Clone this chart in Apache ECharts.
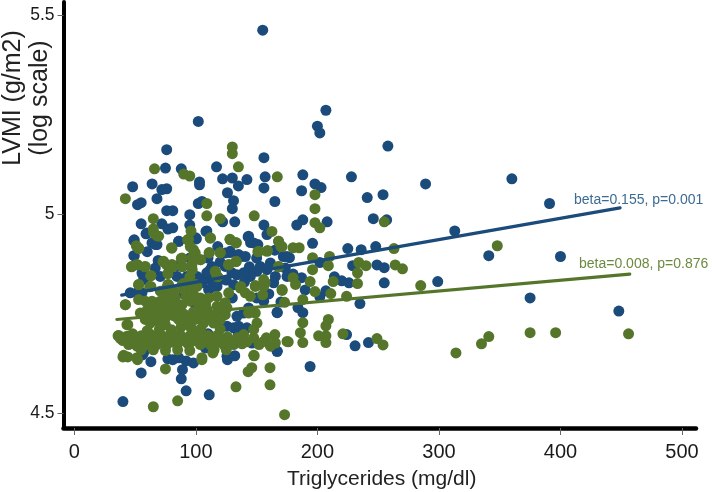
<!DOCTYPE html>
<html>
<head>
<meta charset="utf-8">
<style>html,body{margin:0;padding:0;background:#fff}#c{width:712px;height:492px}</style>
<script src="https://cdn.jsdelivr.net/npm/echarts@6/dist/echarts.min.js"></script>
</head>
<body>
<div id="c"></div>
<script>
const xTicks = [0, 100, 200, 300, 400, 500];
const yTicks = [4.5, 5, 5.5];
const xTitle = 'Triglycerides (mg/dl)';
const yTitle = 'LVMI (g/m2)\n(log scale)';
const blueLabel = 'beta=0.155, p=0.001';
const greenLabel = 'beta=0.008, p=0.876';
const blueFit = [[39, 4.797], [449, 5.016]];
const greenFit = [[35, 4.736], [457, 4.850]];
const bluePoints = [
[155,5.462],[102,5.233],[207,5.261],[200,5.221],[202,5.204],[258,5.171],[360,5.089],[391,5.027],[400,4.894],[448,4.757],[375,4.790],[313,4.958],[341,4.896],[289,5.076],[299,4.831],
[188,5.099],[228,5.094],[198,5.076],[203,5.067],[187,5.059],[241,5.042],[254,5.049],[165,5.032],[246,4.989],[257,4.986],[208,4.981],[188,4.986],[183,4.973],[196,4.927],[225,4.914],[236,4.911],[248,4.919],
[229,4.871],[249,4.873],[255,4.866],[202,4.879],[172,4.894],[177,4.891],[214,4.843],[220,4.833],[226,4.828],[255,4.828],[187,4.841],[207,4.808],[202,4.793],[235,4.776],[167,4.753],[184,4.766],[188,4.753],[224,4.698],[231,4.670],[242,4.678],[167,4.656],[194,4.618],
[76,5.162],[75,5.116],[88,5.114],[117,5.119],[156,5.142],[122,5.089],[130,5.091],[135,5.071],[142,5.087],[157,5.094],[156,5.066],[48,5.069],[64,5.076],[72,5.062],[76,5.064],[103,5.081],[103,5.074],[126,5.054],[68,5.039],[52,5.024],[55,5.029],[131,5.034],[130,5.014],[102,5.027],[105,5.032],[76,5.009],[81,5.009],[95,4.999],
[55,4.976],[132,4.981],[122,4.981],[72,4.976],[77,4.963],[81,4.966],[59,4.951],[109,4.958],[95,4.973],[156,4.973],[143,4.943],[145,4.929],[49,4.934],[67,4.924],[60,4.906],[49,4.896],[86,4.932],[100,4.941],[118,4.919],[128,4.904],[137,4.894],[151,4.924],[69,4.884],[144,4.868],[56,4.851],
[55,4.602],[63,4.630],[77,4.637],[81,4.635],[92,4.632],[98,4.627],[89,4.610],[88,4.587],[92,4.557],[111,4.547],[40,4.530],[126,4.635],[132,4.645],[56,4.647],[109,4.665],[146,4.678],
[49.3,4.936],[49.3,4.896],[59.8,4.953],[63.9,4.928],[68,4.924],[85.8,4.932],[100.4,4.938],[108.3,4.957],[143.4,4.945],[147.6,4.928],[158.5,4.949],[135.2,4.899],[124.2,4.903],[128.3,4.907],[140.7,4.894],[124.2,4.869],[113.3,4.869],[106.4,4.836],[111.9,4.836],[117.4,4.819],[110.5,4.811],[100.9,4.844],[105,4.828],[77.6,4.853],[66.6,4.865],[70.7,4.844],[55.7,4.853],[57,4.836],[46,4.803],[51.5,4.803],[55.7,4.803],[131.1,4.823],[150.3,4.857],[144.8,4.844],[165.4,4.844],[164,4.828],[153,4.869],[175,4.894],[173.6,4.865],[175,4.844],[166.8,4.754],[155.8,4.782],[143.4,4.765],[99.5,4.740],[94.1,4.744],[135.2,4.719],[125.6,4.719],[142,4.715],[131.1,4.715],[121.5,4.719],[146.2,4.677],[166.8,4.656],[125.6,4.644],[57,4.652],[85.8,4.640],[107.8,4.665],[139.3,4.752],[133.8,4.744],[109.1,4.744],[111.9,4.861],[129.7,4.853],[139.3,4.853],[133.8,4.848],[92.7,4.844],[84.5,4.844],[109,4.853],[114.6,4.819],[120,4.836],[161.3,4.878],[158.5,4.861],
[125,4.835],[140,4.830],[160,4.800],[170,4.780],[150,4.790],[130,4.790],[120,4.760],[100,4.770],[90,4.800],[70,4.730],[110,4.700],[135,4.700],[85,4.870],[95,4.890],[110,4.890],[120,4.880],[150,4.890],[165,4.910],[180,4.850],[190,4.810]
];
const greenPoints = [
[167,5.094],[198,5.049],[198,5.014],[198,4.979],[202,4.966],[255,4.981],[168,4.932],[170,4.919],[180,4.916],[185,4.916],[263,4.914],[348,4.921],[196,4.891],[210,4.894],[209,4.871],[168,4.868],[196,4.861],[234,4.879],[240,4.871],[264,4.873],[270,4.863],[233,4.853],[180,4.841],[182,4.824],[194,4.831],[213,4.831],[233,4.826],[285,4.821],[171,4.809],[198,4.806],[211,4.801],[224,4.794],[188,4.786],[173,4.779],
[209,4.736],[207,4.720],[188,4.728],[186,4.703],[165,4.698],[201,4.695],[207,4.695],[221,4.700],[176,4.680],[188,4.678],[207,4.678],[249,4.688],[254,4.672],[341,4.693],[335,4.675],[314,4.652],[375,4.703],[396,4.703],[456,4.700],
[130,5.169],[130,5.152],[135,5.119],[66,5.114],[90,5.101],[95,5.096],[42,5.039],[109,5.027],[109,4.996],[120,4.989],[148,4.996],[65,4.989],[65,4.963],[68,4.946],[96,4.958],[94,4.937],[112,4.941],[128,4.937],[133,4.929],[51,4.921],[53,4.914],[80,4.916],[98,4.911],[111,4.904],[120,4.904],[151,4.906],[159,4.909],
[97,4.891],[104,4.886],[88,4.889],[73,4.881],[76,4.873],[47,4.868],[52,4.873],[58,4.868],[81,4.868],[89,4.868],[127,4.873],[133,4.881],[116,4.856],[118,4.843],[63,4.846],[77,4.851],[97,4.861],[95,4.843],[53,4.824],[63,4.819],[77,4.824],[90,4.826],[100,4.824],[137,4.819],[149,4.821],[157,4.828],
[42,4.773],[44,4.723],[36,4.695],[40,4.683],[40,4.642],[44,4.642],[52,4.635],[75,4.612],[105,4.635],[114,4.652],[148,4.645],[146,4.615],[143,4.605],[133,4.567],[161,4.615],[161,4.572],[65,4.517],[85,4.532],[173,4.497],
[77.6,4.823],[70.7,4.807],[81.7,4.807],[74.9,4.794],[79,4.786],[70.7,4.782],[83.1,4.790],[73.5,4.769],[80.3,4.765],[68,4.757],[76.2,4.752],[85.8,4.761],[88.6,4.773],
[36.5,4.696],[43.3,4.694],[44.7,4.673],[50.2,4.690],[51.5,4.669],[57,4.686],[59.8,4.673],[65.3,4.690],[68,4.673],[73.5,4.690],[76.2,4.673],[81.7,4.694],[84.5,4.673],[90,4.686],[94.1,4.673],[99.5,4.690],[103.7,4.673],[109.1,4.686],[111.9,4.673],[117.4,4.686],[122.9,4.673],[129.7,4.681],[131.1,4.673],
[43.3,4.723],[54.3,4.752],[58.4,4.736],[62.5,4.727],[69.4,4.732],[74.9,4.723],[85.8,4.736],[92.7,4.732],[99.5,4.736],[106.4,4.727],[114.6,4.727],[116,4.748],[124.2,4.748],[109.1,4.761],[102.3,4.765],[95.4,4.782],[98.2,4.798],[95.4,4.819],[88.6,4.823],[100.9,4.819],[103.7,4.790],[110.5,4.790],[117.4,4.794],[124.2,4.778],[127,4.803],[136.6,4.815],[140.7,4.803],[144.8,4.794],[148.9,4.819],[155.8,4.836],[155.8,4.819],[155,4.798],[170.9,4.811],[168.1,4.869],[151.7,4.907],[158.5,4.907],[168.1,4.932],[170.9,4.919],[162.6,4.957],[128.3,4.936],[133.3,4.928],[111.9,4.940],[120.1,4.903],[111,4.903],[93.2,4.936],[95.4,4.919],[99.5,4.903],[103.7,4.886],[96.8,4.874],[88.6,4.869],[88.6,4.890],[80.3,4.915],[73.5,4.882],[80.3,4.874],[65.3,4.953],[69.4,4.945],[52.9,4.915],[47.4,4.869],[51.5,4.874],[58.4,4.869],[63,4.846],[52.9,4.823],[62,4.818],[52.9,4.786],[58.4,4.782],[63.9,4.782],[42,4.773],[116,4.857],[117.4,4.844],[127,4.874],[133.3,4.882],[143.4,4.752],[148.9,4.752],[150.3,4.727],[147.6,4.711],[139.3,4.698],[147.6,4.690],[155.8,4.681],[165.4,4.677],[161.3,4.669],[175,4.681],[147.6,4.646],[40.6,4.646],[51.5,4.640],[105,4.640],[117.4,4.769],[125.6,4.765],
[75,4.740],[82,4.745],[66,4.770],[60,4.760],[90,4.750],[96,4.715],[80,4.710],[70,4.712],[88,4.718],[104,4.712],[60,4.708],[120,4.712],[55,4.660],[65,4.660],[75,4.658],[85,4.660],[95,4.658],[115,4.660],[125,4.660],[138,4.675],
[40,4.685],[47,4.682],[54,4.680],[62,4.682],[70,4.680],[78,4.683],[86,4.680],[92,4.680],[97,4.682],[106,4.680],[114,4.680],[120,4.680],[127,4.672],[135,4.685],[142,4.680],[152,4.673],[158,4.690],[38,4.688],[48,4.700],[55,4.695],[63,4.698],[71,4.698],[79,4.700],[87,4.698],[95,4.695],[102,4.697],[110,4.696],[118,4.697],[126,4.692],[134,4.690],
[72,4.745],[78,4.760],[74,4.780],[68,4.775],[84,4.775],[78,4.800],[76,4.815],[64,4.750],[70,4.762],[86,4.750],[92,4.745],[98,4.755],[105,4.750],[112,4.740],[120,4.735],[108,4.775],[102,4.780],[92,4.795],[90,4.810]
];
const BLUE = '#1a4b7a', GREEN = '#55762a';
const FONT = '"Liberation Sans", Arial, sans-serif';
const chart = echarts.init(document.getElementById('c'), null, {renderer: 'canvas'});
function dots(name, data, color) {
  return {name, type: 'scatter', data, symbol: 'circle', symbolSize: 11, large: false,
    itemStyle: {color, opacity: 1, borderWidth: 0}, emphasis: {disabled: true}, silent: true, animation: false};
}
function fit(name, data, color) {
  return {name, type: 'line', data, showSymbol: false, symbol: 'none', smooth: false,
    lineStyle: {color, width: 3.2, cap: 'round'}, silent: true, animation: false};
}
chart.setOption({
  animation: false,
  backgroundColor: '#fff',
  grid: {left: 63.5, right: 16, top: 2, bottom: 64, outerBoundsMode: 'none'},
  xAxis: {
    type: 'value', min: -8.9, max: 511.5, splitLine: {show: false},
    name: xTitle, nameLocation: 'middle', nameGap: 41,
    nameTextStyle: {fontFamily: FONT, fontSize: 21, color: '#222', padding: [0, 0, 0, 4]},
    axisLine: {show: true, onZero: false, lineStyle: {color: '#000', width: 4.5, cap: 'round'}},
    axisTick: {show: true, customValues: xTicks, length: 7, lineStyle: {color: '#666', width: 1}},
    axisLabel: {customValues: xTicks, fontFamily: FONT, fontSize: 20, color: '#1a1a1a', margin: 14}
  },
  yAxis: {
    type: 'value', min: 4.4637, max: 5.5326, splitLine: {show: false},
    axisLine: {show: true, onZero: false, lineStyle: {color: '#000', width: 4, cap: 'round'}},
    axisTick: {show: true, customValues: yTicks, length: 6, lineStyle: {color: '#666', width: 1}},
    axisLabel: {customValues: yTicks, fontFamily: FONT, fontSize: 17.5, color: '#1a1a1a', margin: 9}
  },
  graphic: [
    {type: 'text', x: 27, y: 98, rotation: Math.PI / 2, silent: true,
      style: {text: yTitle, fontFamily: FONT, fontSize: 25, lineHeight: 27, fill: '#222', align: 'center', verticalAlign: 'middle'}},
    {type: 'text', x: 574, y: 200, silent: true, z: 50,
      style: {text: blueLabel, fontFamily: FONT, fontSize: 14, fill: '#3c6b94', align: 'left', verticalAlign: 'middle'}},
    {type: 'text', x: 579, y: 264, silent: true, z: 50,
      style: {text: greenLabel, fontFamily: FONT, fontSize: 14, fill: '#6c8a3f', align: 'left', verticalAlign: 'middle'}}
  ],
  series: [
    dots('Blue points', bluePoints, BLUE),
    fit('Blue fit', blueFit, BLUE),
    dots('Green points', greenPoints, GREEN),
    fit('Green fit', greenFit, GREEN)
  ]
});
</script>
</body>
</html>
